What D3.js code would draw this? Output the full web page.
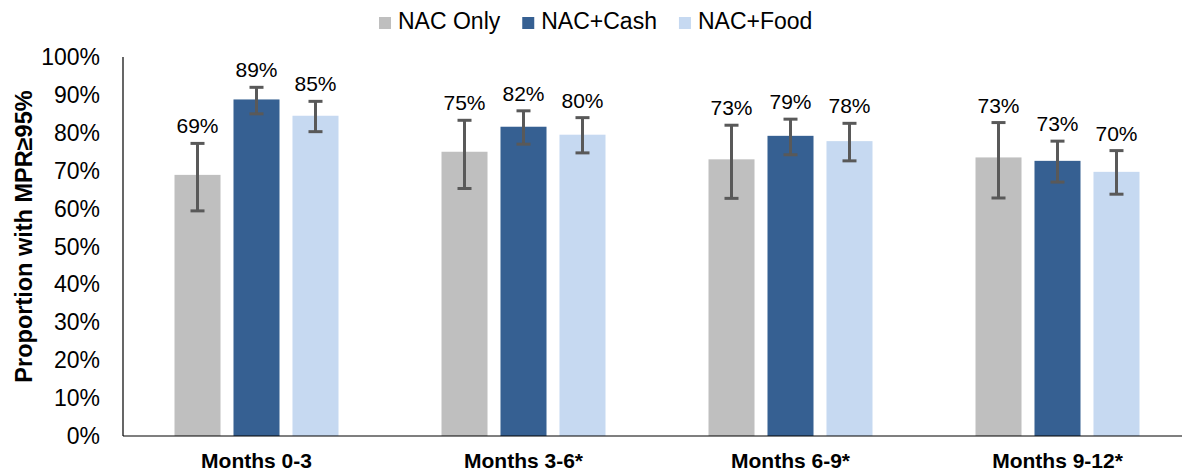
<!DOCTYPE html>
<html>
<head>
<meta charset="utf-8">
<script src="https://cdn.jsdelivr.net/npm/d3@7"></script>
<style>
  body { margin: 0; background: #fff; }
  text { font-family: "Liberation Sans", Arial, sans-serif; fill: #000; }
</style>
</head>
<body>
<div id="chart"></div>
<script>
// categories and series
var categories = ["Months 0-3", "Months 3-6*", "Months 6-9*", "Months 9-12*"];
var seriesNames = ["NAC Only", "NAC+Cash", "NAC+Food"];
var seriesColors = ["#bfbfbf", "#366092", "#c6d9f1"];

// proportion with MPR>=95%, one array per series (percent)
var nacOnly = [68.9, 75.0, 73.0, 73.5];
var nacCash = [88.8, 81.6, 79.2, 72.6];
var nacFood = [84.5, 79.5, 77.8, 69.7];

// error bar bounds
var nacOnlyLow = [59.4, 65.3, 62.7, 62.8];
var nacOnlyHigh = [77.2, 83.3, 82.0, 82.7];
var nacCashLow = [85.0, 77.0, 74.2, 67.0];
var nacCashHigh = [92.0, 85.8, 83.6, 77.8];
var nacFoodLow = [80.3, 74.7, 72.6, 63.8];
var nacFoodHigh = [88.3, 84.0, 82.5, 75.3];

// value labels as shown
var labelsOnly = ["69%", "75%", "73%", "73%"];
var labelsCash = ["89%", "82%", "79%", "73%"];
var labelsFood = ["85%", "80%", "78%", "70%"];

// tick values
var yTicks = [0, 10, 20, 30, 40, 50, 60, 70, 80, 90, 100];

var width = 1182;
var height = 474;

var svg = d3.select("#chart")
  .append("svg")
  .attr("width", width)
  .attr("height", height);

// build rows for drawing
var values = [nacOnly, nacCash, nacFood];
var lows = [nacOnlyLow, nacCashLow, nacFoodLow];
var highs = [nacOnlyHigh, nacCashHigh, nacFoodHigh];
var labels = [labelsOnly, labelsCash, labelsFood];
var rows = [];
categories.forEach(function(c, i) {
  seriesNames.forEach(function(s, j) {
    rows.push({cat: c, series: s, si: j, v: values[j][i], lo: lows[j][i], hi: highs[j][i], label: labels[j][i]});
  });
});

var xScale = d3.scaleBand()
  .domain(categories)
  .range([123, 1191]);

// bars inside a group: width 46, spacing 59
var xInner = d3.scaleBand()
  .domain(seriesNames)
  .range([-82, 82])
  .paddingInner(0.22);

var yScale = d3.scaleLinear()
  .domain([0, 100])
  .range([436, 57]);

// y axis labels
svg.append("g")
  .selectAll("text")
  .data(yTicks)
  .enter()
  .append("text")
  .attr("x", 100)
  .attr("y", function(d) { return yScale(d); })
  .attr("dy", "0.35em")
  .attr("text-anchor", "end")
  .style("font-size", "23px")
  .text(function(d) { return d + "%"; });

// bars
var barW = xInner.bandwidth();
svg.append("g")
  .selectAll("rect")
  .data(rows)
  .enter()
  .append("rect")
  .attr("x", function(d) { return xScale(d.cat) + xScale.bandwidth() / 2 + xInner(d.series); })
  .attr("y", function(d) { return yScale(d.v); })
  .attr("width", barW)
  .attr("height", function(d) { return yScale(0) - yScale(d.v); })
  .attr("fill", function(d) { return seriesColors[d.si]; });

function cx(d) {
  return xScale(d.cat) + xScale.bandwidth() / 2 + xInner(d.series) + barW / 2;
}

// error bars
var err = svg.append("g")
  .attr("stroke", "#595959")
  .attr("stroke-width", 3);
err.selectAll("line.v")
  .data(rows)
  .enter()
  .append("line")
  .attr("x1", cx).attr("x2", cx)
  .attr("y1", function(d) { return yScale(d.lo); })
  .attr("y2", function(d) { return yScale(d.hi); });
err.selectAll("line.t")
  .data(rows)
  .enter()
  .append("line")
  .attr("x1", function(d) { return cx(d) - 7; })
  .attr("x2", function(d) { return cx(d) + 7; })
  .attr("y1", function(d) { return yScale(d.hi); })
  .attr("y2", function(d) { return yScale(d.hi); });
err.selectAll("line.b")
  .data(rows)
  .enter()
  .append("line")
  .attr("x1", function(d) { return cx(d) - 7; })
  .attr("x2", function(d) { return cx(d) + 7; })
  .attr("y1", function(d) { return yScale(d.lo); })
  .attr("y2", function(d) { return yScale(d.lo); });

// value labels
svg.append("g")
  .selectAll("text")
  .data(rows)
  .enter()
  .append("text")
  .attr("x", cx)
  .attr("y", function(d) { return yScale(d.hi) - 10; })
  .attr("text-anchor", "middle")
  .style("font-size", "21px")
  .text(function(d) { return d.label; });

// axis lines
svg.append("line")
  .attr("x1", 123).attr("x2", 123)
  .attr("y1", yScale(100)).attr("y2", yScale(0))
  .attr("stroke", "#000").attr("stroke-width", 1.2);
svg.append("line")
  .attr("x1", 123).attr("x2", width)
  .attr("y1", yScale(0)).attr("y2", yScale(0))
  .attr("stroke", "#000").attr("stroke-width", 1.2);

// category labels
svg.append("g")
  .selectAll("text")
  .data(categories)
  .enter()
  .append("text")
  .attr("x", function(d) { return xScale(d) + xScale.bandwidth() / 2; })
  .attr("y", 468)
  .attr("text-anchor", "middle")
  .style("font-size", "21px")
  .style("font-weight", "bold")
  .text(function(d) { return d; });

// y axis title
svg.append("text")
  .attr("transform", "translate(32, 236.5)rotate(-90)")
  .attr("text-anchor", "middle")
  .style("font-size", "23.5px")
  .style("font-weight", "bold")
  .text("Proportion with MPR\u226595%");

// legend
var legend = svg.append("g");
var lx = 379;
seriesNames.forEach(function(name, i) {
  legend.append("rect")
    .attr("x", lx).attr("y", 17)
    .attr("width", 12).attr("height", 12)
    .attr("fill", seriesColors[i]);
  var t = legend.append("text")
    .attr("x", lx + 19)
    .attr("y", 29)
    .style("font-size", "23px")
    .text(name);
  lx = lx + 19 + t.node().getComputedTextLength() + 22;
});
</script>
</body>
</html>
